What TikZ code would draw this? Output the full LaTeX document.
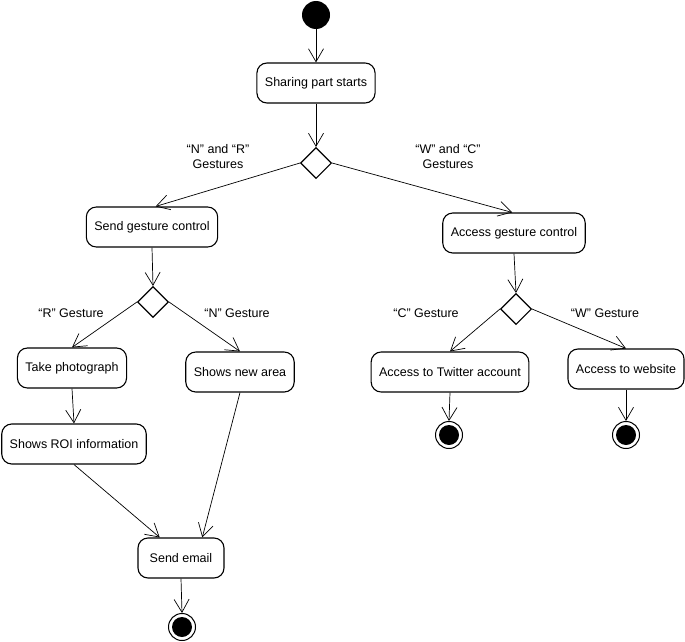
\documentclass[tikz,border=0pt]{standalone}
\usepackage{fontspec}
\setmainfont{Liberation Sans}
\usepackage{tikz}
\usetikzlibrary{arrows.meta,shapes.geometric}

\begin{document}
\begin{tikzpicture}[x=1pt, y=-1pt,
    font=\fontsize{12.5}{15}\selectfont,
    action/.style={rounded corners=10pt, draw, line width=1.1pt, inner xsep=8pt, minimum height=40pt},
    decision/.style={diamond, draw, line width=1.1pt, inner sep=0pt, minimum size=31pt},
    initial/.style={circle, fill=black, inner sep=0pt, minimum size=28pt},
    final/.style={circle, draw, line width=1pt, inner sep=0pt, minimum size=27pt,
      path picture={\fill (path picture bounding box.center) circle (10pt);}},
    flow/.style={-{Straight Barb[length=13pt, width=15pt]}, line width=0.7pt},
    guard/.style={align=center}]
    \useasboundingbox (0,0) rectangle (685,642);
    \node[initial] (start) at (316, 15) {};
    \node[action] (share) at (316, 83) {Sharing part starts};
    \node[decision] (dec1) at (316, 163) {};
    \node[guard] (nr) at (218, 157) {“N” and “R”\\Gestures};
    \node[guard] (wc) at (448, 157) {“W” and “C”\\Gestures};
    \node[action] (send) at (152, 227) {Send gesture control};
    \node[action] (access) at (514, 233) {Access gesture control};
    \node[decision] (dec2) at (153, 302) {};
    \node[decision] (dec3) at (516, 309) {};
    \node[guard] (rg) at (71, 313) {“R” Gesture};
    \node[guard] (ng) at (237, 313) {“N” Gesture};
    \node[guard] (cg) at (426, 313) {“C” Gesture};
    \node[guard] (wg) at (605, 313) {“W” Gesture};
    \node[action] (photo) at (72, 368) {Take photograph};
    \node[action] (area) at (240, 372) {Shows new area};
    \node[action] (twitter) at (450, 372) {Access to Twitter account};
    \node[action] (web) at (626, 369) {Access to website};
    \node[final] (end2) at (449, 435) {};
    \node[final] (end3) at (626, 435) {};
    \node[action] (roi) at (74, 444) {Shows ROI information};
    \node[action, minimum width=86pt] (mail) at (181, 558) {Send email};
    \node[final] (end1) at (182, 627) {};
    \draw[flow] (start) -- (share);
    \draw[flow] (share) -- (dec1.north);
    \draw[flow] (dec1.west) -- (send.80);
    \draw[flow] (dec1.east) -- (access.95);
    \draw[flow] (send.south) -- (dec2.north);
    \draw[flow] (access.south) -- (dec3.north);
    \draw[flow] (dec2.west) -- (photo.north);
    \draw[flow] (dec2.east) -- (area.north);
    \draw[flow] (dec3.west) -- (twitter.north);
    \draw[flow] (dec3.east) -- (web.north);
    \draw[flow] (photo.south) -- (roi.north);
    \draw[flow] (roi.south) -- (mail.136);
    \draw[flow] (area.south) -- (mail.44);
    \draw[flow] (mail.south) -- (end1.north);
    \draw[flow] (twitter.south) -- (end2.north);
    \draw[flow] (web.south) -- (end3.north);
\end{tikzpicture}
\end{document}
